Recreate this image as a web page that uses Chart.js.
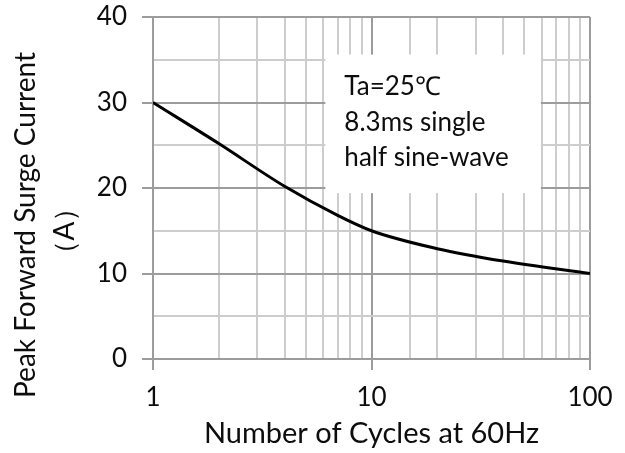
<!DOCTYPE html>
<html lang="en">
<head>
<meta charset="UTF-8">
<title>Peak Forward Surge Current</title>
<script src="https://cdn.jsdelivr.net/npm/chart.js"></script>
<style>
  html, body { margin: 0; padding: 0; background: #fff; }
  .wrap { width: 625px; height: 453px; position: relative; }
</style>
</head>
<body>
<div class="wrap"><canvas id="surgeChart"></canvas></div>
<script>
  // values
  const cycles = [1, 2, 4, 7, 10, 20, 40, 100];
  const surgeCurrent = [30, 25.2, 20.2, 16.8, 15, 12.9, 11.45, 10];
  const xLabels = [1, 10, 100];
  const yLabels = [0, 10, 20, 30, 40];
  const xTitle = 'Number of Cycles at 60Hz';
  const yTitle = ['Peak Forward Surge Current', '（A）'];
  const noteLines = ['Ta=25℃', '8.3ms single', 'half sine-wave'];

  const majorGrid = '#9c9c9c';
  const minorGrid = '#cdcdcd';
  const textColor = '#0d0d0d';
  const font = 'Lato';

  // white panel with the test conditions, covers the grid behind it
  const noteBox = {
    id: 'noteBox',
    beforeDatasetsDraw(chart) {
      const { ctx, scales: { x, y } } = chart;
      const left = x.getPixelForValue(6.15), right = x.getPixelForValue(59.6);
      const top = y.getPixelForValue(35.6), bottom = y.getPixelForValue(19.4);
      ctx.save();
      ctx.fillStyle = '#fff';
      ctx.fillRect(left, top, right - left, bottom - top);
      ctx.fillStyle = textColor;
      ctx.font = '26px ' + font;
      ctx.textBaseline = 'middle';
      noteLines.forEach((t, i) => ctx.fillText(t, left + 19, top + 32 + i * 35.5));
      ctx.restore();
    }
  };

  // y title sits a bit lower than the plot centre in the original
  const yTitlePlugin = {
    id: 'yTitle',
    afterDraw(chart) {
      const ctx = chart.ctx;
      ctx.save();
      ctx.fillStyle = textColor;
      ctx.font = '28px ' + font;
      ctx.textAlign = 'center';
      ctx.textBaseline = 'middle';
      ctx.translate(26, 225);
      ctx.rotate(-Math.PI / 2);
      ctx.fillText(yTitle[0], 0, 0);
      ctx.fillText(yTitle[1], -6, 39);
      ctx.restore();
    }
  };

  new Chart(document.getElementById('surgeChart'), {
    type: 'line',
    data: {
      datasets: [{
        data: cycles.map((c, i) => ({ x: c, y: surgeCurrent[i] })),
        borderColor: '#000',
        borderWidth: 3,
        pointRadius: 0,
        cubicInterpolationMode: 'monotone',
        fill: false
      }]
    },
    options: {
      responsive: true,
      maintainAspectRatio: false,
      animation: false,
      layout: { padding: { top: 17, right: 35, left: 0, bottom: 0 } },
      plugins: { legend: { display: false }, tooltip: { enabled: false } },
      scales: {
        x: {
          type: 'logarithmic',
          min: 1,
          max: 100,
          afterFit: (scale) => { scale.height = 94; },
          grid: {
            lineWidth: 2,
            color: (c) => xLabels.includes(c.tick && c.tick.value) ? majorGrid : minorGrid,
            tickColor: (c) => xLabels.includes(c.tick && c.tick.value) ? majorGrid : 'rgba(0,0,0,0)',
            tickLength: 11
          },
          border: { color: majorGrid, width: 2 },
          ticks: {
            autoSkip: false,
            maxRotation: 0,
            padding: 12,
            color: textColor,
            font: { family: font, size: 26 },
            callback: (v) => xLabels.includes(v) ? String(v) : ''
          },
          title: {
            display: true,
            text: xTitle,
            color: textColor,
            font: { family: font, size: 29 },
            padding: { top: 0, bottom: 2 }
          }
        },
        y: {
          min: 0,
          max: 40,
          afterFit: (scale) => { scale.width = 153; scale.paddingTop = 0; },
          grid: {
            lineWidth: 2,
            color: (c) => c.tick.value % 10 === 0 ? majorGrid : minorGrid,
            tickColor: (c) => c.tick.value % 10 === 0 ? majorGrid : 'rgba(0,0,0,0)',
            tickLength: 11
          },
          border: { color: majorGrid, width: 2 },
          ticks: {
            stepSize: 5,
            padding: 15,
            color: textColor,
            font: { family: font, size: 26 },
            callback: (v) => yLabels.includes(v) ? String(v) : ''
          }
        }
      }
    },
    plugins: [noteBox, yTitlePlugin]
  });
</script>
</body>
</html>
